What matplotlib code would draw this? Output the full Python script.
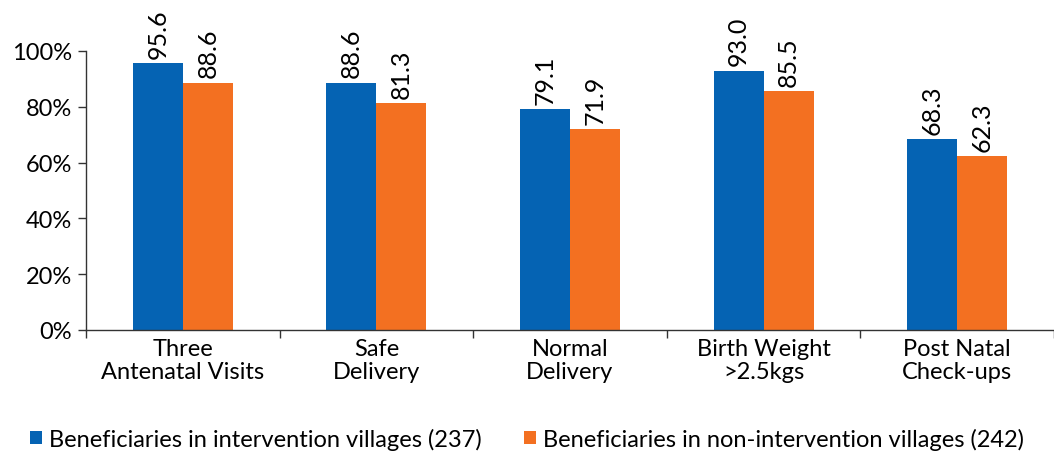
import matplotlib
matplotlib.use("Agg")
import matplotlib.pyplot as plt
import numpy as np

plt.rcParams['font.family'] = ['Lato', 'DejaVu Sans']

categories = ['Three\nAntenatal Visits', 'Safe\nDelivery', 'Normal\nDelivery',
              'Birth Weight\n>2.5kgs', 'Post Natal\nCheck-ups']
intervention = [95.6, 88.6, 79.1, 93.0, 68.3]
non_intervention = [88.6, 81.3, 71.9, 85.5, 62.3]
series_names = ['Beneficiaries in intervention villages (237)',
                'Beneficiaries in non-intervention villages (242)']
blue = '#0563B3'
orange = '#F37021'

fig = plt.figure(figsize=(10.54, 4.52), dpi=100)
ax = fig.add_axes([86 / 1054, 1 - 331 / 452, 1 - 86 / 1054, (331 - 52) / 452])

x = np.arange(len(categories))
w = 0.258
b1 = ax.bar(x - w / 2, intervention, w, color=blue, label=series_names[0])
b2 = ax.bar(x + w / 2, non_intervention, w, color=orange, label=series_names[1])

for bars, vals in ((b1, intervention), (b2, non_intervention)):
    for rect, v in zip(bars, vals):
        ax.text(rect.get_x() + rect.get_width() / 2, v + 2, f'{v:.1f}',
                rotation=90, ha='center', va='bottom', fontsize=18, clip_on=False)

ax.set_xlim(-0.5, len(categories) - 0.5)
ax.set_ylim(0, 100)
ax.set_yticks(np.arange(0, 101, 20))
ax.set_yticklabels([f'{t}%' for t in range(0, 101, 20)], fontsize=17)

# category labels centered, ticks at category boundaries
ax.set_xticks(x)
ax.set_xticklabels(categories, fontsize=17, linespacing=1.1)
ax.tick_params(axis='x', length=0, pad=6)
ax.set_xticks(np.arange(-0.5, len(categories)), minor=True)
ax.tick_params(axis='x', which='minor', length=6, width=1, color='#333333')
ax.tick_params(axis='y', length=6, width=1, color='#333333', pad=4)

for s in ('top', 'right'):
    ax.spines[s].set_visible(False)
for s in ('left', 'bottom'):
    ax.spines[s].set_color('#333333')
    ax.spines[s].set_linewidth(1)

fig.legend(handles=[b1, b2], loc='lower center', bbox_to_anchor=(0.5, -0.045), ncol=2,
           frameon=False, fontsize=17, handlelength=0.5, handleheight=0.5,
           handletextpad=0.3, columnspacing=1.8)

fig.savefig('out.png', dpi=100)
